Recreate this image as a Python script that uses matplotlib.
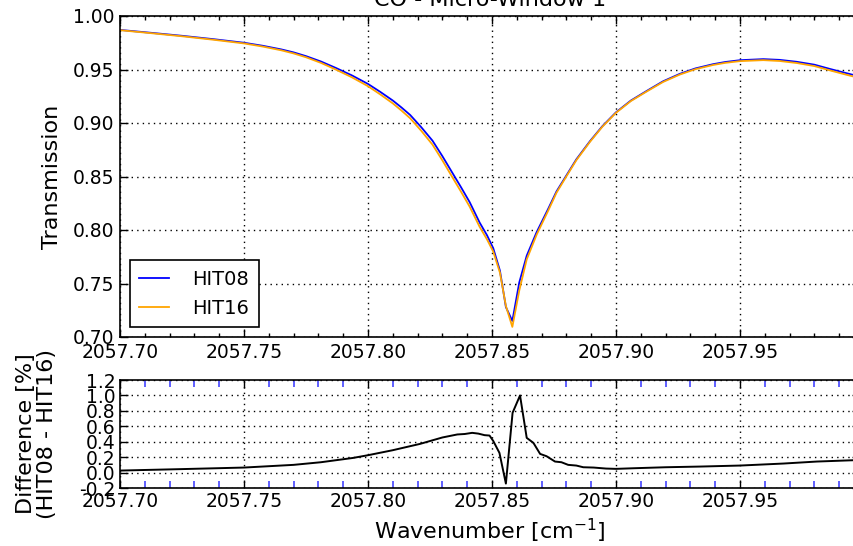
import matplotlib
matplotlib.use("Agg")
import matplotlib.pyplot as plt
from matplotlib.ticker import MultipleLocator, FormatStrFormatter, FixedLocator

# ---- data ----
wn_top = [2057.700, 2057.7125, 2057.725, 2057.7375, 2057.750, 2057.7575, 2057.765,
          2057.770, 2057.775, 2057.781, 2057.787, 2057.7935, 2057.800, 2057.805,
          2057.810, 2057.8135, 2057.817, 2057.8215, 2057.826, 2057.830, 2057.834,
          2057.8375, 2057.841, 2057.845, 2057.848, 2057.8505, 2057.8532, 2057.8556,
          2057.8582, 2057.861, 2057.864, 2057.868, 2057.8727, 2057.876, 2057.880,
          2057.884, 2057.8895, 2057.8945, 2057.900, 2057.906, 2057.9124, 2057.919,
          2057.9258, 2057.932, 2057.9392, 2057.944, 2057.950, 2057.9594, 2057.966,
          2057.9729, 2057.980, 2057.9863, 2057.993, 2058.000]
hit08 = [0.9870, 0.9843, 0.9815, 0.9784, 0.9750, 0.9722, 0.9688,
         0.9660, 0.9625, 0.9575, 0.9515, 0.9445, 0.9365, 0.9290,
         0.9210, 0.9145, 0.9075, 0.8960, 0.8835, 0.8690, 0.8535,
         0.8400, 0.8260, 0.8070, 0.7950, 0.7830, 0.7620, 0.7280,
         0.7150, 0.7510, 0.7760, 0.7980, 0.8200, 0.8360, 0.8510,
         0.8660, 0.8830, 0.8970, 0.9100, 0.9210, 0.9300, 0.9390,
         0.9460, 0.9510, 0.9550, 0.9570, 0.9587, 0.9597, 0.9590,
         0.9572, 0.9545, 0.9505, 0.9465, 0.9425]
hit16 = [0.98674, 0.98396, 0.98106, 0.97786, 0.97437, 0.97147, 0.96795,
         0.96503, 0.96144, 0.95622, 0.94998, 0.94271, 0.93439, 0.92663,
         0.91833, 0.91162, 0.90441, 0.89264, 0.87979, 0.86505, 0.84940,
         0.83583, 0.82179, 0.80301, 0.79117, 0.77979, 0.76009, 0.72904,
         0.70946, 0.74349, 0.77251, 0.79561, 0.81828, 0.83480, 0.85015,
         0.86521, 0.88240, 0.89651, 0.90956, 0.92052, 0.92948, 0.93837,
         0.94534, 0.95029, 0.95424, 0.95619, 0.95783, 0.95874, 0.95795,
         0.95605, 0.95321, 0.94914, 0.94505, 0.94094]

wn_diff = [2057.700, 2057.725, 2057.750, 2057.770, 2057.781, 2057.794, 2057.800,
           2057.810, 2057.821, 2057.830, 2057.836, 2057.839, 2057.842, 2057.8445,
           2057.847, 2057.849, 2057.8505, 2057.853, 2057.8556, 2057.8583,
           2057.8613, 2057.864, 2057.8667, 2057.8694, 2057.872, 2057.8754,
           2057.878, 2057.8807, 2057.884, 2057.8868, 2057.891, 2057.896,
           2057.900, 2057.907, 2057.920, 2057.934, 2057.950, 2057.9675,
           2057.981, 2058.000]
diff_pct = [0.026, 0.045, 0.065, 0.10, 0.134, 0.19, 0.225,
            0.29, 0.372, 0.455, 0.494, 0.50, 0.515, 0.505,
            0.485, 0.48, 0.41, 0.255, -0.143, 0.775,
            1.0, 0.45, 0.385, 0.242, 0.212, 0.143,
            0.134, 0.10, 0.091, 0.069, 0.065, 0.052,
            0.048, 0.056, 0.069, 0.078, 0.091, 0.117,
            0.143, 0.165]

x_major = [2057.70, 2057.75, 2057.80, 2057.85, 2057.90, 2057.95]
y_top_ticks = [0.70, 0.75, 0.80, 0.85, 0.90, 0.95, 1.00]
y_bot_ticks = [-0.2, 0.0, 0.2, 0.4, 0.6, 0.8, 1.0, 1.2]

plt.rcParams['font.family'] = ['DejaVu Sans']
W, H = 854, 546
fig = plt.figure(figsize=(W / 100, H / 100), dpi=100)

xmax = 2057.9985
right_px = 120 + (xmax - 2057.70) * 2480
ax1 = fig.add_axes([120 / W, 1 - 337 / H, (right_px - 120) / W, (337 - 16) / H])
ax2 = fig.add_axes([120 / W, 1 - 488 / H, (right_px - 120) / W, (488 - 380) / H])

tick_fs = 13.5
label_fs = 16
grid_style = dict(linestyle=(0, (1, 3)), color='k', lw=1.0)

# top panel
ax1.plot(wn_top, hit08, color='blue', lw=1.3, label='HIT08')
ax1.plot(wn_top, hit16, color='orange', lw=1.3, label='HIT16')
ax1.set_xlim(2057.70, xmax)
ax1.set_ylim(0.70, 1.00)
ax1.xaxis.set_major_locator(FixedLocator(x_major))
ax1.xaxis.set_minor_locator(MultipleLocator(0.01))
ax1.yaxis.set_major_locator(FixedLocator(y_top_ticks))
ax1.xaxis.set_major_formatter(FormatStrFormatter('%.2f'))
ax1.yaxis.set_major_formatter(FormatStrFormatter('%.2f'))
ax1.tick_params(which='both', direction='in', top=True, right=True, labelsize=tick_fs, color='k')
ax1.tick_params(which='major', length=6, width=1, pad=4)
ax1.tick_params(which='minor', length=3, width=1)
ax1.grid(True, which='major', **grid_style)
ax1.set_ylabel('Transmission', fontsize=label_fs)
ax1.yaxis.set_label_coords(-0.078, 0.5)
ax1.set_title('CO - Micro-Window 1', fontsize=label_fs, pad=7)
leg = ax1.legend(loc='lower left', fontsize=14, fancybox=False, framealpha=1,
                 edgecolor='k', handlelength=1.5, handletextpad=1.2,
                 borderpad=0.5, borderaxespad=0.5, labelspacing=0.5)
leg.get_frame().set_linewidth(1.2)

# bottom panel
ax2.plot(wn_diff, diff_pct, color='k', lw=1.4)
ax2.set_xlim(2057.70, xmax)
ax2.set_ylim(-0.2, 1.2)
ax2.xaxis.set_major_locator(FixedLocator(x_major))
ax2.xaxis.set_minor_locator(MultipleLocator(0.01))
ax2.yaxis.set_major_locator(FixedLocator(y_bot_ticks))
ax2.xaxis.set_major_formatter(FormatStrFormatter('%.2f'))
ax2.yaxis.set_major_formatter(FormatStrFormatter('%.1f'))
ax2.tick_params(which='both', direction='in', top=True, right=True, labelsize=tick_fs)
ax2.tick_params(which='major', length=6, width=1, pad=3, color='k')
ax2.tick_params(which='minor', length=5, width=1.2, color='#4444ff')
ax2.grid(True, which='major', **grid_style)
ax2.set_ylabel('Difference [%]\n(HIT08 - HIT16)', fontsize=label_fs, linespacing=1.05)
ax2.yaxis.set_label_coords(-0.085, 0.5)
ax2.set_xlabel('Wavenumber [cm$^{-1}$]', fontsize=label_fs, labelpad=4)

for ax in (ax1, ax2):
    for s in ax.spines.values():
        s.set_linewidth(1.2)
        s.set_color('k')

fig.savefig('out.png', dpi=100)
